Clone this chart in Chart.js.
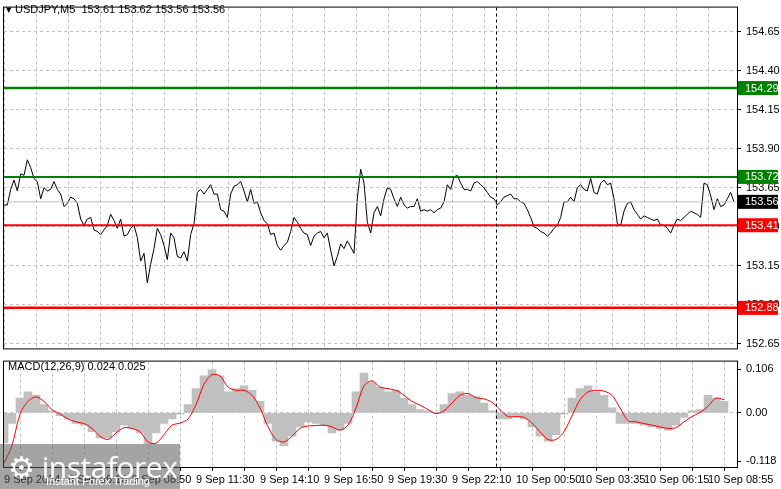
<!DOCTYPE html>
<html><head><meta charset="utf-8">
<script src="https://cdn.jsdelivr.net/npm/chart.js@4/dist/chart.umd.min.js"></script>
<style>
body{margin:0;background:#fff;width:781px;height:489px;overflow:hidden;position:relative;font-family:"Liberation Sans",Arial,sans-serif}
#c1{position:absolute;left:0;top:-4px}
#c2{position:absolute;left:0;top:350px}
.t{position:absolute;font-size:11px;color:#000;white-space:pre}
#logo{position:absolute;left:0;top:444px;width:180px;height:45px;background:rgba(90,90,90,0.55);color:#fff}
</style></head><body>
<canvas id="c1" width="781" height="364"></canvas>
<canvas id="c2" width="781" height="139"></canvas>
<div class="t" style="left:6px;top:3px">▾ USDJPY,M5  153.61 153.62 153.56 153.56</div>
<div class="t" style="left:8px;top:360px">MACD(12,26,9) 0.024 0.025</div>
<div id="logo"><div style="position:absolute;left:8px;top:2px;font-size:30px;font-family:'Open Sans',sans-serif;letter-spacing:-0.5px">⚙ instaforex</div><div style="position:absolute;left:46px;top:31px;font-size:11px">Instant Forex Trading</div></div>
<script>
// ---- data ----
const symbol = "USDJPY,M5";
const priceStepBars = 5/3;
const prices = [153.54,153.54,153.64,153.70,153.63,153.74,153.73,153.83,153.78,153.71,153.69,153.58,153.65,153.63,153.64,153.69,153.64,153.61,153.53,153.55,153.59,153.58,153.55,153.45,153.41,153.45,153.46,153.38,153.37,153.35,153.38,153.41,153.48,153.44,153.39,153.45,153.34,153.35,153.39,153.41,153.33,153.18,153.23,153.04,153.16,153.26,153.39,153.35,153.28,153.19,153.36,153.33,153.21,153.20,153.24,153.18,153.35,153.42,153.62,153.64,153.61,153.64,153.67,153.61,153.61,153.51,153.50,153.46,153.61,153.66,153.67,153.69,153.63,153.56,153.64,153.55,153.56,153.49,153.44,153.42,153.35,153.36,153.28,153.25,153.28,153.30,153.37,153.46,153.43,153.39,153.36,153.35,153.28,153.34,153.36,153.37,153.33,153.36,153.25,153.15,153.21,153.29,153.26,153.31,153.27,153.23,153.58,153.77,153.68,153.43,153.36,153.49,153.53,153.47,153.58,153.65,153.64,
153.58,153.53,153.59,153.54,153.52,153.53,153.53,153.58,153.50,153.51,153.50,153.51,153.49,153.51,153.52,153.56,153.67,153.64,153.72,153.73,153.68,153.64,153.64,153.63,153.68,153.69,153.67,153.65,153.62,153.59,153.58,153.54,153.56,153.59,153.60,153.61,153.58,153.58,153.56,153.55,153.51,153.46,153.40,153.39,153.37,153.36,153.34,153.36,153.39,153.41,153.46,153.56,153.56,153.59,153.56,153.65,153.67,153.64,153.63,153.71,153.62,153.61,153.68,153.70,153.67,153.68,153.58,153.42,153.41,153.50,153.55,153.56,153.51,153.48,153.45,153.47,153.46,153.45,153.44,153.45,153.41,153.41,153.39,153.36,153.41,153.45,153.44,153.46,153.48,153.50,153.49,153.48,153.46,153.68,153.67,153.60,153.51,153.58,153.53,153.54,153.58,153.62,153.56];
const macdStepBars = 4;
const macdHist = [-0.073,-0.026,0.036,0.051,0.043,0.020,0.005,-0.007,-0.015,-0.026,-0.030,-0.046,-0.061,-0.061,-0.046,-0.030,-0.038,-0.049,-0.076,-0.049,-0.026,-0.015,-0.003,0.020,0.059,0.090,0.105,0.090,0.051,0.059,0.066,0.055,0.028,-0.026,-0.069,-0.080,-0.057,-0.034,-0.022,-0.026,-0.030,-0.049,-0.042,-0.026,0.051,0.097,0.074,0.063,0.051,0.055,0.036,0.020,0.008,0.005,0.001,0.020,0.047,0.051,0.043,0.039,0.024,0.005,-0.015,-0.015,-0.007,-0.015,-0.034,-0.057,-0.069,-0.053,-0.003,0.036,0.059,0.066,0.051,0.043,0.012,-0.026,-0.026,-0.026,-0.030,-0.034,-0.038,-0.042,-0.030,-0.011,0.005,0.008,0.043,0.036,0.028];
const macdSignal = [-0.123,-0.080,-0.003,0.028,0.039,0.028,0.008,-0.003,-0.015,-0.022,-0.026,-0.038,-0.057,-0.065,-0.049,-0.036,-0.038,-0.046,-0.071,-0.074,-0.053,-0.030,-0.025,-0.015,0.020,0.070,0.093,0.090,0.063,0.055,0.055,0.043,0.012,-0.034,-0.065,-0.071,-0.057,-0.038,-0.032,-0.031,-0.030,-0.034,-0.042,-0.030,0.012,0.066,0.078,0.063,0.059,0.055,0.043,0.028,0.019,0.008,-0.002,0.005,0.024,0.043,0.047,0.037,0.034,0.026,0.008,-0.009,-0.009,-0.011,-0.025,-0.046,-0.065,-0.065,-0.046,-0.007,0.032,0.051,0.055,0.053,0.043,0.012,-0.019,-0.022,-0.026,-0.030,-0.034,-0.038,-0.036,-0.022,-0.009,0.001,0.016,0.036,0.032];
const timeLabels = ["9 Sep 2024","9 Sep 06:10","9 Sep 08:50","9 Sep 11:30","9 Sep 14:10","9 Sep 16:50","9 Sep 19:30","9 Sep 22:10","10 Sep 00:50","10 Sep 03:35","10 Sep 06:15","10 Sep 08:55"];
const labelEveryBars = 32, gridEveryBars = 16, totalBars = 366.5, separatorBar = 246;
const priceTicks = [152.65,152.90,153.15,153.40,153.65,153.90,154.15,154.40,154.65];
const resistance = [154.29,153.72];
const support = [153.41,152.88];
const lastPrice = 153.56;
const macdTicks = [-0.118,0,0.106];

// ---- helpers ----
const xyP = prices.map((v,i)=>({x:i*priceStepBars,y:v}));
const gridTicks=[]; for(let b=0;b<=totalBars;b+=gridEveryBars) gridTicks.push({value:b});
const lvl = v=>[{x:0,y:v},{x:totalBars,y:v}];
const frame={id:'frame',afterDraw(c){const a=c.chartArea,x=c.ctx;x.save();x.strokeStyle='#000';x.lineWidth=1;x.strokeRect(a.left-0.5,a.top-0.5,a.right-a.left+1,a.bottom-a.top+1);
 const s=c.scales.x; x.setLineDash([3,3]); x.beginPath(); const px=Math.round(s.getPixelForValue(separatorBar))+0.5; x.moveTo(px,a.top); x.lineTo(px,a.bottom); x.stroke(); x.restore();}};
const boxes={id:'boxes',afterDraw(c){const y=c.scales.y,x=c.ctx;const items=[[resistance[0],'#008000','#fff'],[resistance[1],'#008000','#fff'],[lastPrice,'#000','#fff'],[support[0],'#ff0000','#fff'],[support[1],'#ff0000','#fff']];
 x.save();x.font='11px "Liberation Sans",Arial';x.textBaseline='middle';
 for(const [v,bg,fg] of items){const p=y.getPixelForValue(v);x.fillStyle=bg;x.fillRect(738,p-7,40,14);x.fillStyle=fg;x.fillText(v.toFixed(2),745,p+0.5);} x.restore();}};
const common={animation:false,responsive:false,events:[],plugins:{legend:{display:false},tooltip:{enabled:false}}};
const fitW = s=>{s.width=44;};
const tf={size:11,family:'"Liberation Sans",Arial'};

new Chart(document.getElementById('c1'),{type:'line',
 data:{datasets:[
  {data:lvl(lastPrice),borderColor:'#c0c0c0',borderWidth:1,pointRadius:0},
  {data:lvl(resistance[0]),borderColor:'#008000',borderWidth:2.5,pointRadius:0},
  {data:lvl(resistance[1]),borderColor:'#008000',borderWidth:2,pointRadius:0},
  {data:lvl(support[0]),borderColor:'#ff0000',borderWidth:2,pointRadius:0},
  {data:lvl(support[1]),borderColor:'#ff0000',borderWidth:2.5,pointRadius:0},
  {label:symbol,data:xyP,borderColor:'#000',borderWidth:1,pointRadius:0,tension:0}]},
 options:{...common,layout:{padding:{left:4,top:0,right:0,bottom:0}},
  scales:{
   x:{type:'linear',min:0,max:totalBars,afterBuildTicks:s=>{s.ticks=gridTicks.slice();},ticks:{display:false},border:{display:false,dash:[3,3]},
      grid:{color:'#c0c0c0',drawTicks:false},afterFit:s=>{s.height=0;}},
   y:{position:'right',min:152.62,max:154.806,afterBuildTicks:s=>{s.ticks=priceTicks.map(v=>({value:v}));},afterFit:fitW,
      border:{color:'#000',dash:[3,3]},grid:{color:'#c0c0c0',tickLength:4,tickColor:'#000'},
      ticks:{color:'#000',font:tf,padding:5,callback:v=>v.toFixed(2)}}}},
 plugins:[frame,boxes]});

new Chart(document.getElementById('c2'),{type:'bar',
 data:{datasets:[
  {type:'line',label:'Signal',data:macdSignal.map((v,j)=>({x:j*macdStepBars,y:v})),borderColor:'#ff0000',borderWidth:1,pointRadius:0,tension:0.3},
  {label:'MACD',data:macdHist.map((v,j)=>({x:j*macdStepBars,y:v})),backgroundColor:'#c0c0c0',barPercentage:1,categoryPercentage:1}]},
 options:{...common,layout:{padding:{left:4,top:0,right:0,bottom:0}},
  scales:{
   x:{type:'linear',min:0,max:totalBars,offset:false,afterBuildTicks:s=>{s.ticks=gridTicks.slice();},afterFit:s=>{s.height=22;},border:{display:false,dash:[3,3]},
      grid:{color:'#c0c0c0',drawTicks:true,tickLength:4,tickColor:'#000'},
      ticks:{color:'#000',autoSkip:false,maxRotation:0,align:'start',padding:2,font:tf,
        callback:v=>(v%labelEveryBars===0?(timeLabels[v/labelEveryBars]||''):'')}},
   y:{position:'right',min:-0.132,max:0.125,afterBuildTicks:s=>{s.ticks=macdTicks.map(v=>({value:v}));},afterFit:fitW,
      border:{color:'#000',dash:[3,3]},grid:{color:c=>c.tick&&c.tick.value===0?'#c0c0c0':'rgba(0,0,0,0)',tickLength:4,tickColor:'#000'},
      ticks:{color:'#000',font:tf,padding:5,callback:v=>v===0?'0.00':v.toFixed(3)}}}},
 plugins:[frame]});
</script>
</body></html>
